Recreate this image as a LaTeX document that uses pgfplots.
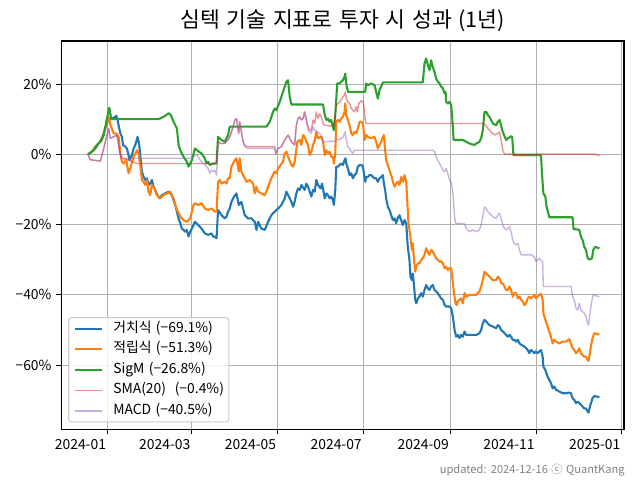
\documentclass[border=0pt]{standalone}
\usepackage{fontspec}
\setmainfont[WordSpace=1.4]{Noto Sans CJK KR}
\usepackage{pgfplots}
\pgfplotsset{compat=1.18}

\definecolor{c0}{RGB}{31,119,180}
\definecolor{c1}{RGB}{255,127,14}
\definecolor{c2}{RGB}{44,160,44}
\definecolor{c3}{RGB}{214,39,40}
\definecolor{c4}{RGB}{148,103,189}
\definecolor{gridgray}{RGB}{176,176,176}
\definecolor{legedge}{RGB}{204,204,204}

\begin{document}
\begin{tikzpicture}
\begin{axis}[
    scale only axis,
    width=405.1pt, height=279.6pt,
    xmin=-33, xmax=367.5,
    ymin=-78.3, ymax=32.3,
    font=\fontsize{10}{12}\selectfont,
    /pgf/number format/assume math mode=true,
    title={심텍 기술 지표로 투자 시 성과 (1년)},
    title style={font=\fontsize{15.5}{18}\selectfont, at={(0.5,1)}, anchor=base, yshift=3.8pt, inner sep=0pt},
    xtick={0,60,121,182,244,305,366},
    xticklabels={2024-01,2024-03,2024-05,2024-07,2024-09,2024-11,2025-01},
    xticklabel style={anchor=north east, inner xsep=1pt},
    ytick={-60,-40,-20,0,20},
    yticklabels={−60\%,−40\%,−20\%,0\%,20\%},
    tick pos=left,
    tick align=outside,
    major tick length=3.5pt,
    every tick/.style={black, line width=0.8pt},
    axis line style={line width=0.8pt},
    grid=major,
    grid style={gridgray, line width=0.8pt},
    legend cell align=left,
    legend style={at={(0.0124,0.018)}, anchor=south west,
        draw=legedge, line width=0.8pt, rounded corners=2pt,
        fill=white, fill opacity=0.8, text opacity=1,
        font=\fontsize{10}{12}\selectfont,
        inner xsep=3.5pt, inner ysep=3pt,
        row sep=5pt, column sep=7pt,
        nodes={inner sep=0pt, text height=7.5pt, text depth=2.3pt}},
    legend image code/.code={\draw[#1] (0pt,0pt) -- (20pt,0pt);},
    every axis plot/.append style={line join=round},
]
% 거치식
\addplot[c0, line width=1.5pt] coordinates {
(-14,0) (-11.1,0.8) (-8.8,1.7) (-6.4,3.1) (-4.0,4.6) (-1.7,7.4) (0,9.3) (1.9,10.2) (4.3,10.4) (6.2,11.0) (7.1,9.8) (7.8,8.3) (9.0,6.0) (10.2,5.0) (10.9,2.7) (12.6,2.2) (13.7,1.7) (14.9,-0.2) (15.6,-1.6) (17.3,-0.2) (18.5,1.7) (19.7,2.7) (21.3,5.0) (22.5,2.7) (23.2,-0.2) (24.4,-4.9) (25.6,-6.4) (26.8,-7.3) (28.0,-6.8) (29.1,-8.7) (30.3,-8.3) (31.5,-7.3) (32.7,-9.2) (33.9,-10.1) (35.5,-11.6) (37.0,-12.5) (38.6,-11.6) (41.0,-11.1) (43.4,-10.6) (44.5,-11.1) (45.7,-11.6) (46.9,-13.0) (48.1,-14.4) (49.3,-16.3) (50.5,-18.2) (51.7,-19.6) (52.8,-21.1) (54.0,-21.5) (55.2,-22.0) (56.4,-21.5) (57.6,-23.4) (58.8,-22.0) (60.0,-21.1) (62.1,-19.2) (64.4,-20.1) (66.8,-21.1) (69.2,-22.5) (71.5,-22.9) (73.9,-22.5) (75.1,-23.4) (76.3,-23.4) (77.5,-23.9) (78.6,-15.8) (81.0,-17.3) (83.4,-18.2) (84.6,-17.7) (85.7,-16.3) (86.9,-15.4) (88.1,-13.5) (90.0,-12.0) (91.7,-11.1) (92.4,-12.5) (93.3,-14.4) (95.2,-13.5) (97.6,-17.3) (99.9,-18.2) (102.3,-18.2) (104.7,-19.2) (105.9,-21.5) (107.1,-19.2) (109.4,-21.1) (111.8,-21.5) (114.2,-19.2) (116.5,-17.3) (118.9,-16.3) (121.3,-15.4) (123.7,-14.4) (126.0,-12.5) (127.2,-10.6) (129.6,-12.5) (130.8,-13.5) (132.0,-14.9) (133.1,-13.5) (134.3,-11.1) (135.5,-9.7) (136.7,-10.1) (137.9,-8.7) (140.2,-10.1) (141.4,-8.3) (142.6,-9.2) (145.0,-12.0) (146.2,-10.1) (147.4,-10.6) (148.5,-7.3) (149.7,-8.7) (151.6,-9.7) (152.6,-8.3) (154.5,-12.5) (155.7,-11.1) (156.8,-11.6) (158.0,-12.5) (159.1,-12.0) (160.3,-13.0) (161.0,-14.4) (162.0,-10.1) (162.7,-3.5) (163.9,-3.5) (165.1,-3.0) (166.2,-2.6) (167.4,-3.0) (168.6,-1.6) (169.3,-1.1) (169.8,-2.6) (171.0,-4.0) (172.2,-5.9) (173.4,-5.4) (174.5,-6.8) (175.7,-5.9) (176.9,-5.4) (178.1,-3.5) (179.3,-3.0) (180.5,-3.0) (181.7,-3.5) (182.4,-5.4) (183.3,-7.8) (184.0,-6.4) (185.2,-6.4) (186.4,-5.9) (187.6,-5.9) (189.9,-6.8) (191.1,-6.8) (192.3,-7.8) (193.5,-6.8) (194.7,-6.4) (195.9,-5.9) (196.6,-8.3) (197.5,-10.1) (198.2,-12.5) (199.4,-14.9) (200.6,-15.8) (201.8,-17.3) (203.0,-18.7) (204.2,-18.2) (205.3,-19.6) (206.5,-18.2) (207.7,-17.3) (208.9,-18.7) (210.1,-20.1) (211.3,-18.7) (212.5,-19.6) (213.6,-26.3) (214.8,-30.1) (215.5,-34.8) (216.5,-35.8) (217.2,-33.9) (217.9,-36.7) (218.9,-41.4) (219.6,-42.4) (220.8,-41.0) (221.9,-40.5) (223.1,-39.5) (224.3,-40.5) (225.5,-38.6) (226.7,-37.2) (227.9,-38.1) (229.0,-38.6) (230.2,-37.6) (231.4,-37.2) (232.6,-38.6) (235.0,-39.5) (237.3,-41.0) (238.6,-41.4) (239.8,-42.9) (240.9,-43.3) (242.1,-43.3) (243.3,-43.3) (244.5,-43.8) (245.7,-46.2) (246.9,-50.0) (248.0,-51.9) (249.2,-51.4) (250.4,-52.3) (251.6,-51.4) (252.8,-51.9) (254.0,-50.4) (255.2,-51.4) (257.5,-51.4) (259.9,-51.4) (262.3,-51.4) (264.6,-50.9) (265.8,-50.0) (267.0,-48.1) (268.2,-47.1) (269.4,-47.6) (271.7,-48.6) (274.1,-49.0) (276.5,-49.5) (277.7,-48.6) (278.9,-49.0) (280.0,-50.0) (281.2,-50.4) (282.4,-50.9) (283.6,-51.4) (284.8,-51.9) (286.0,-51.4) (287.1,-51.9) (288.3,-52.8) (289.5,-52.8) (290.7,-53.3) (291.9,-52.8) (293.1,-53.8) (294.3,-54.2) (296.6,-54.7) (299.0,-55.7) (300.1,-56.6) (301.3,-55.7) (302.5,-56.1) (303.7,-56.6) (304.8,-56.1) (306.0,-56.6) (307.2,-56.1) (308.4,-55.7) (309.6,-57.6) (310.1,-60.4) (311.5,-61.4) (313.1,-63.3) (314.3,-64.2) (315.5,-65.1) (316.7,-66.6) (317.9,-66.1) (319.1,-67.0) (321.4,-67.5) (323.8,-68.0) (326.2,-68.0) (328.5,-67.8) (329.7,-68.0) (330.9,-69.4) (332.1,-69.9) (333.3,-70.8) (334.5,-70.4) (335.7,-70.8) (336.8,-71.3) (338.0,-71.8) (339.2,-72.3) (340.4,-72.3) (341.6,-73.2) (342.3,-73.5) (343.2,-71.8) (345.1,-69.4) (346.3,-68.8) (350,-69.1)
};
\addlegendentry{거치식 (−69.1\%)}
% 적립식
\addplot[c1, line width=1.5pt] coordinates {
(-14,0) (-11.1,0.8) (-8.8,2.2) (-6.4,3.1) (-4.0,4.1) (-1.7,7.4) (0.7,10.7) (2.4,7.9) (4.3,6.0) (6.2,6.0) (7.8,5.0) (9.0,0.3) (10.2,-2.1) (11.4,-2.6) (13.3,-1.6) (14.9,-5.4) (16.1,-4.0) (18.5,-0.7) (20.9,1.2) (22.0,0.3) (23.2,-3.0) (24.4,-7.3) (25.6,-7.8) (26.8,-8.7) (28.0,-7.3) (29.1,-10.6) (30.3,-11.6) (31.5,-8.7) (33.2,-9.7) (35.1,-11.6) (37.4,-12.5) (39.8,-11.6) (42.2,-11.1) (44.5,-10.6) (46.9,-12.5) (49.3,-15.8) (51.7,-17.7) (54.0,-18.7) (56.4,-19.2) (58.8,-18.2) (61.1,-14.4) (62.1,-13.9) (64.4,-14.4) (66.8,-13.9) (69.2,-15.4) (71.5,-15.8) (73.9,-15.4) (76.3,-16.3) (77.5,-16.3) (78.6,-7.8) (79.8,-7.3) (81.0,-8.3) (83.4,-7.8) (84.6,-8.3) (85.7,-6.8) (86.9,-6.8) (88.1,-3.5) (90.5,-1.6) (91.7,-1.1) (92.4,-2.6) (93.3,-4.9) (94.0,-1.1) (95.2,-4.9) (96.4,-5.9) (97.6,-6.8) (98.8,-7.8) (101.2,-7.3) (103.5,-8.3) (104.7,-11.1) (105.9,-9.2) (107.1,-10.6) (109.4,-11.1) (111.8,-11.6) (113.0,-10.6) (114.2,-9.2) (116.5,-6.8) (118.9,-4.9) (120.1,-5.4) (121.3,-4.0) (123.2,-3.0) (124.8,-2.1) (126.0,0.3) (127.2,0.8) (128.4,-0.7) (130.8,-3.0) (132.0,-3.5) (133.1,-2.1) (135.0,3.6) (136.7,4.1) (137.9,2.7) (139.1,5.5) (140.2,5.0) (141.4,3.6) (142.6,2.7) (143.8,-0.2) (145.0,0.8) (146.2,2.7) (147.4,4.1) (148.5,6.4) (149.7,4.6) (152.1,5.0) (153.3,3.6) (154.5,-0.2) (155.7,1.2) (156.8,0.3) (158.0,0.8) (159.1,-0.7) (160.3,-0.7) (161.0,-2.6) (162.0,0.3) (162.7,9.3) (163.9,9.8) (165.1,9.3) (166.2,10.2) (167.4,10.7) (168.6,12.1) (169.1,14.5) (169.8,11.2) (171.0,9.8) (172.2,8.3) (173.4,6.0) (174.5,5.5) (175.7,6.4) (176.9,6.0) (178.1,7.4) (179.3,9.3) (180.5,9.3) (181.7,8.8) (182.4,6.0) (182.8,4.1) (184.0,5.5) (185.2,5.0) (187.6,4.6) (189.9,5.0) (191.1,3.6) (192.3,1.7) (193.5,2.7) (194.7,3.6) (195.9,5.0) (196.6,5.5) (197.5,1.2) (198.2,-1.6) (199.4,-3.0) (200.6,-4.5) (201.8,-5.9) (203.0,-7.8) (204.2,-9.2) (205.3,-8.3) (206.5,-7.8) (207.7,-8.7) (208.9,-6.4) (210.1,-7.8) (211.3,-5.9) (212.5,-7.8) (213.2,-13.0) (214.1,-19.6) (215.5,-23.4) (216.5,-27.2) (217.2,-25.3) (217.9,-29.1) (218.9,-33.4) (219.6,-32.0) (220.8,-31.0) (221.9,-31.0) (223.1,-30.1) (224.3,-29.6) (225.5,-28.6) (226.7,-26.7) (227.9,-27.7) (229.0,-28.6) (230.2,-27.2) (231.4,-27.7) (232.6,-28.6) (233.8,-29.6) (236.2,-30.5) (237.4,-30.5) (238.6,-31.0) (239.8,-32.4) (240.9,-32.0) (242.1,-32.9) (243.3,-32.4) (244.5,-32.4) (245.2,-34.8) (246.2,-38.6) (247.6,-42.4) (248.5,-42.9) (249.2,-41.9) (250.4,-41.4) (251.6,-41.0) (252.8,-42.4) (254.0,-39.5) (255.2,-40.5) (257.5,-40.0) (259.9,-40.0) (262.3,-40.0) (263.4,-39.5) (264.6,-39.1) (265.8,-37.6) (267.0,-35.8) (268.2,-33.4) (269.4,-33.9) (270.6,-34.3) (271.7,-34.8) (274.1,-35.8) (276.5,-35.8) (277.7,-34.8) (278.9,-35.3) (280.0,-36.7) (281.2,-36.7) (282.4,-37.6) (283.6,-38.6) (284.8,-38.6) (286.0,-37.6) (287.1,-38.6) (288.3,-40.5) (289.5,-39.5) (290.7,-39.5) (291.9,-41.0) (293.1,-40.5) (294.3,-41.4) (295.5,-41.9) (296.6,-42.9) (297.8,-42.4) (298.9,-41.0) (300.1,-40.5) (301.3,-41.0) (302.5,-40.5) (303.7,-40.0) (304.8,-41.0) (306.0,-40.5) (307.2,-40.0) (308.4,-39.7) (309.6,-41.4) (310.1,-45.2) (311.5,-47.1) (313.1,-49.0) (314.3,-50.5) (315.5,-51.9) (316.7,-53.8) (317.9,-52.8) (319.1,-53.3) (321.4,-53.8) (323.8,-53.3) (326.2,-53.3) (328.5,-52.6) (329.7,-53.8) (330.9,-55.2) (332.1,-55.7) (333.3,-56.6) (334.5,-56.1) (335.7,-55.2) (336.8,-56.6) (338.0,-57.1) (339.2,-57.6) (340.4,-57.6) (341.6,-58.5) (342.3,-58.8) (343.2,-56.6) (343.9,-54.7) (345.1,-52.3) (346.3,-50.9) (350,-51.3)
};
\addlegendentry{적립식 (−51.3\%)}
% SigM
\addplot[c2, line width=1.5pt] coordinates {
(-14,0) (-10,1.2) (-7.6,2.7) (-5.2,3.6) (-2.8,5.5) (-0.5,10.2) (1.2,13.3) (2.6,10.05) (36.3,10.05) (39.8,10.7) (43.4,11.7) (45,11.2) (46.9,9.3) (49.3,7.4) (50.5,2.7) (51.7,1.2) (54,-0.7) (56.4,-2.1) (57.6,-3.5) (58.8,-2.6) (60,-1.6) (62.1,1.7) (64.4,0.9) (66.8,0.3) (69.2,-1.1) (70.3,-2.6) (71.5,-2.1) (72.7,-3.0) (75.1,-2.6) (77.5,-2.6) (78.6,5.0) (81,4.1) (83.4,3.6) (84.6,4.6) (85.7,5.5) (86.9,7.9) (113,7.9) (115.4,9.3) (117.7,12.1) (118.9,13.1) (120.1,12.6) (122.5,15.0) (124.8,17.8) (127.2,20.7) (128.4,21.1) (129.6,16.4) (130.8,14.2) (153.3,14.2) (154.5,11.2) (155.7,9.8) (156.8,10.2) (158,9.3) (159.1,9.8) (161,6.9) (162,11.2) (163.4,20.2) (165,20.2) (166.2,20.7) (167.4,21.1) (168.6,22.1) (169.1,23.0) (169.8,20.2) (171,17.8) (183.3,17.8) (184,20.2) (185.2,19.7) (187.6,20.2) (190,19.7) (191.1,17.8) (192.3,15.9) (193.5,18.3) (195.9,20.5) (224.3,20.5) (225.5,25.9) (226.7,27.3) (227.9,25.4) (229.1,24.0) (230.2,26.8) (231.4,24.9) (232.6,23.5) (233.8,21.6) (235,20.7) (236.2,20.2) (237.4,19.3) (238.6,18.8) (239.8,17.4) (240.5,17.8) (240.9,15.0) (242.1,14.5) (243.3,15.0) (244.5,14.0) (245.2,10.7) (246.2,4.1) (252.8,4.1) (255.2,3.6) (257.5,3.1) (259.9,2.8) (261.1,2.7) (262.3,3.1) (264.6,3.6) (265.8,4.6) (267,6.9) (268.2,12.1) (269.4,12.1) (270.6,11.2) (271.7,10.7) (272.9,9.8) (274.1,8.8) (276.5,8.3) (277.7,9.3) (278.9,9.8) (280,8.3) (281.2,6.4) (283.6,4.1) (284.8,4.6) (286,4.8) (287.1,5.2) (287.9,5.0) (288.8,-0.2) (308.4,-0.2) (309.1,-5.4) (310.1,-11.1) (311.5,-12.0) (312.4,-14.9) (314.3,-17.9) (330.9,-17.9) (331.6,-21.3) (333.3,-21.3) (335.7,-21.5) (336.8,-23.4) (338,-24.4) (339.2,-26.3) (340.4,-27.2) (341.6,-29.6) (343.2,-29.9) (344.7,-29.6) (345.6,-27.2) (347,-26.3) (350,-26.8)
};
\addlegendentry{SigM (−26.8\%)}
% SMA(20)
\addplot[c3, line width=1pt, draw opacity=0.5] coordinates {
(-14,0) (-12.5,-1.5) (-5.2,-1.9) (-2.8,1.7) (0.7,7.4) (1.9,4.6) (4.3,5.0) (6.2,5.5) (7.1,4.6) (8.5,0.8) (10.2,-1.1) (15,-1.6) (20.9,-2.6) (77.5,-2.6) (78.6,3.6) (81,3.1) (83.4,3.1) (85.7,4.1) (86.9,5.0) (88.1,6.4) (89.3,7.9) (90.5,9.8) (91.7,10.2) (92.4,8.3) (93.3,6.0) (94,9.3) (95.2,6.4) (96.4,3.6) (97.6,2.7) (98.8,2.2) (119,2.2) (119.6,0.3) (121.3,1.7) (123.7,2.2) (126,4.1) (128.4,5.5) (130.8,3.6) (133.1,2.7) (134.3,8.3) (135.5,10.2) (136.7,10.7) (137.9,9.8) (139.1,10.2) (140.2,12.1) (141.4,10.2) (142.6,7.9) (143.8,6.9) (145,6.9) (146.2,9.8) (147.4,8.8) (148.5,12.1) (149.7,10.2) (150.9,11.6) (152.1,10.7) (153.3,8.8) (154.5,8.3) (159.1,8.1) (161,7.9) (162.7,14.0) (163.9,14.5) (165.1,15.0) (166.2,15.5) (167.4,16.4) (168.6,16.9) (169.1,17.8) (169.8,15.9) (171,14.9) (172.2,14.5) (173.4,13.1) (174.5,12.6) (175.7,12.1) (176.9,13.6) (177.6,12.1) (178.8,14.5) (180.5,15.3) (181.7,15.0) (182.4,13.6) (183.3,9.8) (184,8.8) (266,8.8) (268.2,8.6) (270.6,7.4) (272.9,6.4) (275.3,5.5) (277.7,6.0) (278.9,6.4) (280,4.1) (281.2,1.2) (282.4,0.1) (347,0.1) (350,-0.4)
};
\addlegendentry{SMA(20)\ \ (−0.4\%)}
% MACD
\addplot[c4, line width=1pt, draw opacity=0.5] coordinates {
(-14,0) (-12.5,-1.5) (-5.2,-1.9) (-2.8,1.7) (0.7,7.4) (1.9,4.6) (4.3,5.0) (6.2,5.5) (7.1,4.6) (8.5,0.8) (10.2,-1.1) (60,-1.1) (62.3,-0.2) (63.5,0.0) (65.9,-1.6) (66.8,-2.1) (69.2,-3.0) (71.5,-4.0) (72.7,-5.4) (73.9,-4.5) (75.1,-4.9) (76.3,-4.5) (77.5,-5.9) (78.6,3.1) (81,3.1) (83.4,3.1) (85.7,4.1) (86.9,5.0) (88.1,6.4) (89.3,7.9) (90.5,9.8) (91.7,10.2) (92.4,8.3) (93.3,6.0) (94,9.3) (95.2,6.4) (96.4,3.6) (97.6,2.2) (100,1.7) (119,1.7) (119.6,0.0) (121.3,1.7) (123.7,2.2) (126,4.1) (128.4,5.5) (130.8,3.6) (133.1,2.7) (134.3,8.3) (135.5,10.2) (136.7,10.7) (137.9,9.8) (139.1,10.2) (140.2,12.1) (142.6,6.9) (143.8,6.4) (145,6.0) (146.2,7.9) (147.4,6.9) (149.7,6.4) (152.1,5.5) (153.3,3.6) (158,3.6) (159.1,3.9) (161,3.6) (162.7,4.1) (165.1,4.3) (167.4,4.8) (168.6,6.0) (169.1,6.4) (169.8,4.1) (171,2.2) (172.2,1.7) (173.4,0.8) (174.5,0.3) (175.7,1.2) (231.4,1.2) (232.6,0.8) (233.8,-0.7) (235,-1.6) (236.2,-2.6) (237.4,-3.5) (238.6,-4.5) (239.8,-4.9) (240.9,-4.0) (242.1,-5.4) (243.3,-7.3) (244.5,-7.8) (245.7,-11.1) (246.9,-17.7) (247.6,-19.6) (254,-19.8) (255.2,-21.1) (257.5,-22.0) (259.9,-21.5) (262.3,-22.0) (264.6,-21.5) (265.8,-20.1) (267,-17.7) (268.2,-14.9) (269.4,-15.4) (270.6,-16.3) (271.7,-16.8) (274.1,-17.7) (276.5,-18.2) (277.7,-17.3) (278.9,-16.8) (280,-18.2) (281.2,-20.1) (282.4,-21.1) (283.6,-21.5) (286,-20.6) (287.1,-22.0) (288.3,-24.4) (289.5,-25.3) (290.7,-25.8) (291.9,-25.3) (293.1,-27.2) (294.3,-28.6) (301.3,-28.6) (303.7,-29.1) (304.8,-30.5) (306,-30.1) (307.2,-29.6) (308.4,-30.1) (309.6,-30.5) (310.1,-37.6) (329.7,-37.6) (330.9,-40.5) (332.1,-41.4) (333.3,-43.8) (334.5,-44.3) (335.7,-42.4) (336.8,-44.3) (338,-44.8) (339.2,-45.2) (340.4,-46.2) (341.6,-48.1) (342.3,-48.6) (343.2,-45.2) (344.7,-41.4) (345.6,-40.0) (347,-40.2) (350,-40.5)
};
\addlegendentry{MACD (−40.5\%)}
\end{axis}
\node[anchor=base east, text=gray, font=\fontsize{8}{10}\selectfont, inner sep=0pt]
  at ([xshift=0.7pt,yshift=-31.5pt]current axis.south east) {updated: 2024-12-16 ⓒ QuantKang};
\pgfresetboundingbox
\path[use as bounding box] ([xshift=-44.1pt,yshift=-36.5pt]current axis.south west) rectangle ([xshift=11.5pt,yshift=29.5pt]current axis.north east);
\end{tikzpicture}
\end{document}
